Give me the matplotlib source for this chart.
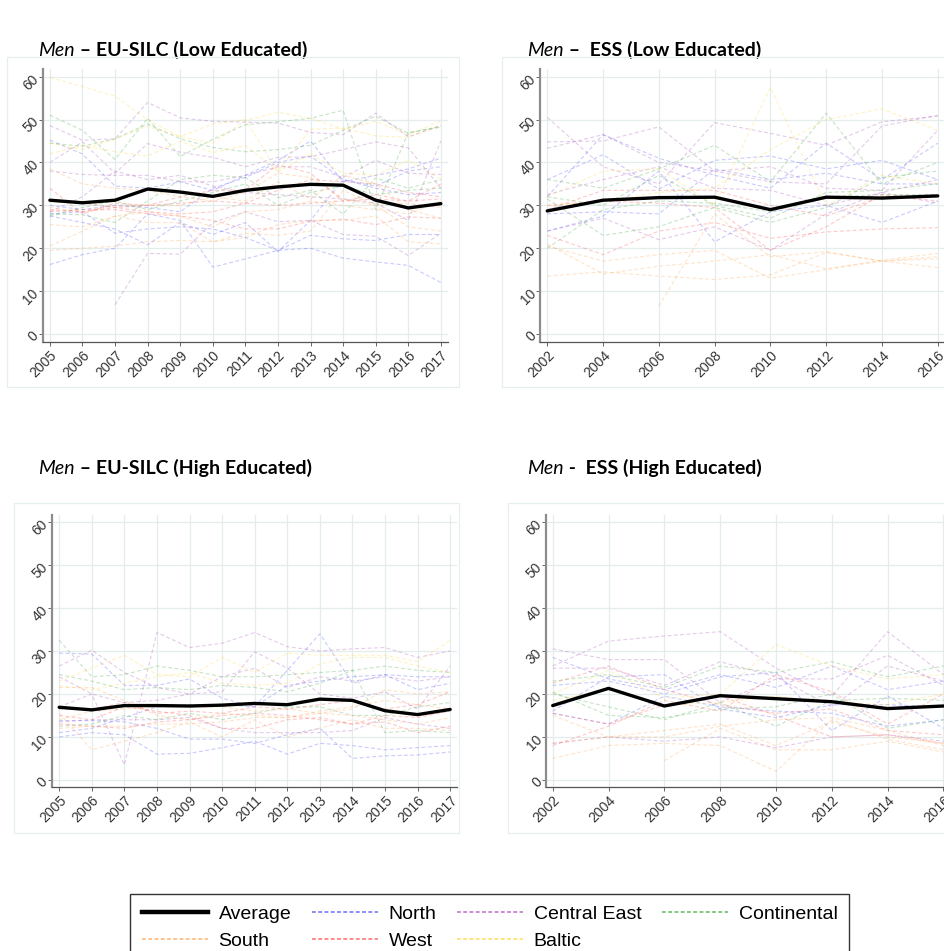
import numpy as np
import matplotlib
matplotlib.use("Agg")
import matplotlib.pyplot as plt
from matplotlib.lines import Line2D
from matplotlib.patches import Rectangle

nan = np.nan

years_silc = [2005, 2006, 2007, 2008, 2009, 2010, 2011, 2012, 2013, 2014, 2015, 2016, 2017]
years_ess = [2002, 2004, 2006, 2008, 2010, 2012, 2014, 2016]

# ---- EU-SILC, low educated ----
silc_low_avg = [31.2, 30.6, 31.2, 33.8, 33.1, 32.1, 33.5, 34.3, 34.9, 34.7, 31.2, 29.4, 30.4]
silc_low_north = [
    [45.2, 42.0, 34.5, 34.0, 35.5, 33.5, 37.0, 40.5, 45.0, 35.5, 37.0, 38.5, 41.0],
    [27.5, 26.0, 24.5, 20.8, 26.0, 23.2, 26.0, 19.2, 26.5, 36.0, 34.5, 38.0, 39.0],
    [16.2, 18.5, 20.0, 28.0, 26.5, 15.6, 17.5, 19.5, 20.0, 17.7, 16.8, 16.0, 12.0],
    [28.0, 28.5, 23.5, 24.5, 25.0, 24.5, 22.5, 19.5, 23.0, 22.2, 21.8, 23.2, 23.2],
    [30.0, 29.0, 30.0, 29.5, 28.5, 34.0, 36.5, 40.0, 41.5, 36.0, 34.0, 32.5, 33.0],
]
silc_low_central_east = [
    [48.6, 45.2, 45.5, 54.0, 50.4, 49.6, 49.4, 49.2, 47.0, 46.5, 51.5, 46.0, 48.6],
    [40.0, 44.8, 37.5, 44.4, 42.4, 41.2, 39.0, 41.2, 41.3, 43.0, 44.8, 43.4, 34.0],
    [38.0, 37.2, 37.0, 37.0, 35.5, 35.5, 37.0, 39.0, 39.0, 36.5, 40.5, 37.5, 37.2],
    [28.5, 32.0, 38.0, 36.0, 37.0, 34.5, 33.0, 32.5, 32.0, 31.5, 30.5, 26.5, 45.0],
    [nan, nan, 6.8, 18.8, 18.6, 26.0, 28.5, 26.2, 26.5, 23.2, 22.8, 18.3, 23.5],
]
silc_low_continental = [
    [51.0, 47.5, 40.7, 50.3, 41.4, 45.4, 48.8, 49.5, 50.3, 52.2, 29.0, 47.0, 48.2],
    [44.5, 43.8, 45.5, 49.0, 45.5, 43.5, 42.5, 43.0, 44.0, 47.5, 50.8, 46.8, 48.5],
    [28.0, 27.8, 26.0, 31.0, 36.0, 37.0, 36.5, 31.8, 33.5, 28.0, 36.4, 34.0, 36.0],
    [27.5, 29.5, 31.0, 29.0, 31.0, 33.0, 35.0, 30.0, 33.0, 34.5, 32.5, 33.5, 34.0],
]
silc_low_south = [
    [38.5, 35.0, 34.0, 33.5, 32.0, 31.0, 33.0, 37.5, 36.5, 31.5, 30.0, 30.5, 29.5],
    [20.5, 24.0, 27.5, 26.0, 26.0, 21.5, 23.5, 23.0, 24.0, 33.5, 30.0, 25.0, 24.0],
    [19.5, 20.0, 20.5, 21.5, 21.8, 21.5, 22.5, 25.5, 26.5, 26.5, 27.5, 21.5, 21.0],
    [25.5, 25.0, 27.5, 28.5, 27.5, 25.0, 28.5, 29.0, 31.0, 30.0, 29.0, 28.0, 31.0],
    [29.5, 28.5, 30.0, 30.0, 30.0, 32.0, 31.0, 35.5, 31.5, 37.0, 35.0, 29.0, 27.0],
]
silc_low_west = [
    [34.0, 28.0, 30.5, 30.0, 32.0, 33.5, 33.5, 39.5, 37.5, 31.0, 31.5, 31.0, 35.0],
    [29.0, 28.5, 29.5, 30.0, 30.5, 31.0, 30.5, 30.0, 30.5, 31.0, 32.5, 31.0, 31.5],
    [28.5, 29.0, 29.0, 28.0, 27.5, 26.5, 24.5, 24.5, 26.3, 26.8, 25.5, 27.3, 27.0],
    [31.0, 30.5, 29.5, 28.5, 28.0, 28.5, 30.5, 33.5, 36.0, 35.5, 35.0, 33.0, 32.0],
]
silc_low_baltic = [
    [59.8, 57.7, 55.5, 50.0, 46.0, 44.5, 49.8, 51.7, 50.3, 47.8, 49.6, 46.5, 49.7],
    [42.0, 44.0, 42.5, 41.5, 44.9, 42.3, 44.0, 38.0, 47.8, 48.0, 46.2, 45.9, 48.5],
    [44.5, 43.0, 45.5, 48.5, 46.0, 49.0, 50.0, 37.8, 42.0, 37.5, 37.0, 40.5, 36.0],
]

# ---- ESS, low educated ----
ess_low_avg = [28.7, 31.2, 31.8, 31.9, 29.0, 31.9, 31.7, 32.2]
ess_low_north = [
    [32.0, 46.5, 41.0, 37.0, 34.0, 44.5, 36.0, 44.5],
    [36.0, 41.8, 33.8, 40.5, 41.5, 38.5, 40.5, 36.0],
    [24.0, 27.5, 38.0, 21.5, 28.5, 30.0, 26.0, 31.0],
    [28.0, 28.5, 28.0, 38.5, 36.0, 37.5, 35.0, 35.0],
]
ess_low_central_east = [
    [50.5, 39.0, 35.0, 49.3, 46.8, 44.0, 49.5, 50.8],
    [44.8, 45.0, 48.3, 38.0, 35.5, 35.0, 48.5, 51.0],
    [43.3, 46.5, 40.0, 38.0, 39.0, 34.0, 33.5, 47.5],
    [32.5, 36.0, 39.0, 34.0, 33.5, 30.0, 33.0, 36.0],
    [24.0, 27.0, 22.0, 25.0, 19.5, 28.0, 33.0, 30.5],
]
ess_low_continental = [
    [36.0, 34.0, 38.5, 44.0, 35.5, 51.5, 35.0, 40.0],
    [31.5, 23.0, 25.0, 29.5, 26.0, 29.5, 36.5, 38.0],
    [32.0, 30.0, 37.0, 30.0, 27.0, 33.0, 33.5, 35.0],
    [20.0, 29.0, 31.0, 30.5, 28.5, 32.0, 32.5, 32.5],
]
ess_low_south = [
    [20.5, 17.0, 18.5, 19.5, 13.0, 15.0, 17.0, 17.5],
    [13.5, 14.5, 13.5, 12.7, 13.8, 19.0, 17.0, 15.5],
    [21.0, 14.0, 15.8, 17.0, 18.5, 15.2, 17.2, 18.8],
    [nan, nan, 6.5, 28.0, 18.0, 19.2, 17.0, 18.0],
]
ess_low_west = [
    [23.0, 18.5, 24.0, 26.0, 22.3, 23.8, 24.5, 24.8],
    [29.0, 33.5, 33.5, 33.5, 30.0, 27.5, 32.0, 32.5],
    [30.0, 31.0, 30.5, 29.5, 19.5, 25.0, 32.5, 31.0],
]
ess_low_baltic = [
    [32.0, 38.0, 38.5, 30.0, 57.5, 30.0, 37.0, 35.0],
    [30.0, 31.0, 33.0, 34.0, 43.0, 50.0, 52.5, 47.5],
]

# ---- EU-SILC, high educated ----
silc_high_avg = [16.9, 16.3, 17.3, 17.3, 17.2, 17.4, 17.8, 17.5, 18.8, 18.5, 16.1, 15.2, 16.4]
silc_high_north = [
    [29.5, 29.3, 22.0, 22.0, 23.5, 19.0, 17.0, 25.5, 34.0, 22.5, 24.5, 24.0, 24.0],
    [10.0, 11.0, 10.5, 6.0, 6.2, 7.5, 9.0, 6.0, 8.5, 8.0, 7.0, 7.5, 8.0],
    [13.8, 13.8, 13.5, 12.0, 9.5, 9.5, 8.5, 10.5, 12.0, 5.0, 5.6, 5.8, 6.5],
    [11.0, 12.0, 14.5, 17.0, 17.5, 17.5, 17.0, 22.0, 23.0, 24.0, 24.5, 21.0, 22.5],
]
silc_high_central_east = [
    [17.0, 20.0, 3.5, 34.3, 30.8, 31.8, 34.3, 31.0, 30.0, 30.5, 30.8, 28.5, 30.0],
    [26.5, 30.2, 25.0, 21.5, 20.0, 20.5, 29.8, 26.0, 20.0, 19.0, 20.5, 16.5, 26.5],
    [24.0, 20.0, 18.0, 18.5, 20.0, 24.0, 26.0, 21.5, 24.0, 23.0, 24.0, 23.0, 24.0],
    [13.5, 14.0, 14.0, 14.0, 14.5, 12.0, 11.0, 11.0, 11.0, 11.5, 14.5, 13.0, 12.0],
]
silc_high_continental = [
    [32.5, 24.0, 24.5, 26.5, 25.5, 24.0, 24.0, 24.5, 25.0, 25.5, 26.5, 25.5, 25.0],
    [24.5, 23.0, 21.0, 21.5, 21.0, 22.0, 21.5, 20.5, 22.5, 25.5, 11.0, 11.5, 11.0],
    [12.5, 13.0, 15.0, 14.0, 15.5, 14.0, 15.5, 17.0, 17.0, 15.0, 15.0, 17.0, 18.0],
]
silc_high_south = [
    [15.5, 7.0, 9.0, 11.0, 13.5, 10.0, 14.0, 10.0, 12.0, 14.0, 12.0, 12.0, 11.5],
    [21.5, 21.5, 18.5, 15.0, 14.0, 15.5, 15.0, 14.5, 15.5, 15.0, 14.0, 13.0, 14.5],
    [12.0, 12.5, 12.5, 13.0, 13.0, 13.5, 14.5, 14.5, 16.0, 17.0, 18.5, 17.5, 16.5],
    [14.0, 16.0, 16.5, 17.0, 17.0, 17.0, 16.0, 16.5, 15.5, 16.5, 21.0, 20.0, 20.5],
]
silc_high_west = [
    [15.0, 14.0, 17.0, 16.0, 15.0, 12.0, 12.0, 14.0, 14.5, 13.0, 13.5, 11.0, 12.5],
    [16.5, 16.5, 18.0, 15.5, 16.0, 15.5, 17.0, 16.5, 17.5, 18.5, 16.5, 17.5, 20.5],
    [13.0, 12.5, 12.0, 13.5, 14.0, 15.0, 15.5, 15.0, 14.0, 13.0, 15.0, 14.5, 16.0],
]
silc_high_baltic = [
    [23.0, 26.0, 29.0, 24.5, 24.0, 28.5, 25.0, 29.5, 29.0, 29.0, 29.0, 27.5, 32.5],
    [22.0, 21.0, 22.5, 24.0, 25.0, 22.5, 22.0, 22.5, 27.0, 28.5, 28.5, 26.5, 25.0],
]

# ---- ESS, high educated ----
ess_high_avg = [17.3, 21.3, 17.2, 19.6, 18.9, 18.2, 16.6, 17.2]
ess_high_north = [
    [28.5, 23.5, 21.0, 24.5, 21.5, 26.5, 21.0, 23.0],
    [22.0, 23.0, 20.0, 24.0, 25.0, 11.5, 19.5, 12.0],
    [15.5, 13.0, 19.5, 17.0, 16.0, 15.5, 12.5, 14.0],
    [16.0, 24.0, 24.5, 16.5, 14.5, 17.5, 17.5, 17.0],
]
ess_high_central_east = [
    [26.5, 32.3, 33.5, 34.5, 26.0, 19.5, 34.5, 24.5],
    [30.5, 28.0, 28.0, 18.0, 23.5, 23.5, 29.0, 22.0],
    [26.0, 26.0, 22.0, 27.5, 24.0, 17.0, 26.5, 23.0],
    [8.5, 10.0, 9.0, 10.0, 7.5, 10.0, 10.5, 9.0],
]
ess_high_continental = [
    [23.0, 24.5, 21.5, 26.5, 25.0, 27.5, 24.0, 26.5],
    [20.0, 17.0, 14.0, 18.0, 12.5, 18.5, 19.0, 18.5],
    [20.5, 15.0, 14.5, 16.5, 17.0, 20.0, 12.0, 14.0],
]
ess_high_south = [
    [15.0, 10.0, 11.5, 13.0, 8.0, 13.5, 10.0, 8.5],
    [5.0, 8.0, 8.5, 8.0, 2.0, 14.0, 9.5, 7.0],
    [8.5, 10.0, 10.0, 12.5, 14.0, 14.5, 11.5, 8.0],
    [nan, nan, 4.5, 12.0, 7.0, 7.0, 9.0, 6.5],
]
ess_high_west = [
    [8.0, 12.5, 18.5, 16.0, 24.5, 20.5, 13.0, 20.0],
    [22.5, 26.5, 21.0, 17.5, 15.5, 16.5, 11.5, 10.5],
    [15.5, 13.0, 17.5, 19.5, 15.0, 10.0, 10.5, 8.5],
]
ess_high_baltic = [
    [20.0, 25.5, 19.0, 20.0, 31.5, 26.5, 23.5, 24.5],
    [18.5, 21.0, 17.5, 18.0, 19.5, 18.0, 17.5, 20.0],
]

region_names = ["North", "Central East", "Continental", "South", "West", "Baltic"]
region_colors = ["#3a3aff", "#a23cb4", "#2e9e2e", "#ff9a3c", "#ff3a3a", "#ffd21f"]

panels = [
    ("Men", " \u2013 EU-SILC (Low Educated)", years_silc, silc_low_avg,
     [silc_low_north, silc_low_central_east, silc_low_continental,
      silc_low_south, silc_low_west, silc_low_baltic]),
    ("Men", " \u2013  ESS (Low Educated)", years_ess, ess_low_avg,
     [ess_low_north, ess_low_central_east, ess_low_continental,
      ess_low_south, ess_low_west, ess_low_baltic]),
    ("Men", " \u2013 EU-SILC (High Educated)", years_silc, silc_high_avg,
     [silc_high_north, silc_high_central_east, silc_high_continental,
      silc_high_south, silc_high_west, silc_high_baltic]),
    ("Men", " -  ESS (High Educated)", years_ess, ess_high_avg,
     [ess_high_north, ess_high_central_east, ess_high_continental,
      ess_high_south, ess_high_west, ess_high_baltic]),
]

W, H = 945, 951
fig = plt.figure(figsize=(W / 100, H / 100), dpi=100)


def px_box(left, top, right, bottom):
    return [left / W, 1 - bottom / H, (right - left) / W, (bottom - top) / H]


# axes boxes in pixels: left, top, right, bottom
axes_px = [(42.7, 69, 447.7, 341.7), (540, 69, 945, 341.7),
           (51.7, 515, 457, 787), (546, 515, 951, 787)]
frames_px = [(7, 57, 459, 387), (502, 57, 946, 387),
             (14, 503, 459, 833), (508, 503, 946, 833)]
titles_px = [(38, 50), (527, 50), (38, 468), (527, 468)]
xlims = [(2004.78, 2017.21), (2001.74, 2016.26), (2004.77, 2017.21), (2001.76, 2016.27)]
ylims = [(-1.8, 61.8), (-1.8, 61.8), (-1.65, 61.65), (-1.65, 61.65)]

for i, (ital, rest, years, avg, groups) in enumerate(panels):
    l, t, r, b = frames_px[i]
    fig.add_artist(Rectangle((l / W, 1 - b / H), (r - l) / W, (b - t) / H,
                             transform=fig.transFigure, fill=False,
                             edgecolor="#e6eeee", lw=0.9))

    ax = fig.add_axes(px_box(*axes_px[i]))
    for color, series in zip(region_colors, groups):
        for vals in series:
            ax.plot(years, vals, color=color, alpha=0.27, lw=0.8,
                    dashes=(3.5, 2.2))
    ax.plot(years, avg, color="black", lw=2.4, solid_capstyle="round", zorder=5)

    ax.set_xlim(*xlims[i])
    ax.set_ylim(*ylims[i])
    ax.set_xticks(years)
    ax.set_yticks([0, 10, 20, 30, 40, 50, 60])
    ax.grid(True, color="#e4ecec", lw=0.9)
    ax.set_axisbelow(True)
    for s in ["top", "right"]:
        ax.spines[s].set_visible(False)
    ax.spines["left"].set_color("#8c8c8c")
    ax.spines["left"].set_linewidth(1.6)
    ax.spines["bottom"].set_color("#555555")
    ax.spines["bottom"].set_linewidth(0.9)
    ax.tick_params(length=3, width=0.7, color="#666666", labelsize=10,
                   labelcolor="#333333", pad=1.5)
    for lab in ax.get_xticklabels():
        lab.set_rotation(45)
        lab.set_ha("right")
        lab.set_va("top")
        lab.set_rotation_mode("anchor")
        lab.set_family("Liberation Sans")
    for lab in ax.get_yticklabels():
        lab.set_rotation(45)
        lab.set_ha("right")
        lab.set_va("center")
        lab.set_rotation_mode("anchor")
        lab.set_family("Liberation Sans")

    tx, ty = titles_px[i]
    t1 = fig.text(tx / W, 1 - ty / H, ital, fontsize=14, style="italic",
                  family="Lato", va="center", ha="left")
    ax.annotate(rest, xy=(1, 0.5), xycoords=t1, va="center", ha="left",
                fontsize=14, fontweight="bold", family="Lato",
                annotation_clip=False)

# legend entries, ordered so the 4-column legend reads row by row
avg_handle = Line2D([], [], color="black", lw=3.2)
reg_handles = [Line2D([], [], color=c, alpha=0.75, lw=1.1, dashes=(2.5, 1.6))
               for c in region_colors]
handles = [avg_handle, reg_handles[3], reg_handles[0], reg_handles[4],
           reg_handles[1], reg_handles[5], reg_handles[2]]
labels = ["Average", "South", "North", "West", "Central East", "Baltic", "Continental"]

leg = fig.legend(handles, labels, ncol=4, loc="upper left",
                 bbox_to_anchor=(130 / W, 1 - 894 / H),
                 prop={"family": "Liberation Sans", "size": 14},
                 frameon=True, fancybox=False, edgecolor="black",
                 handlelength=3.4, handletextpad=0.55, columnspacing=1.05,
                 labelspacing=0.45, borderpad=0.6, borderaxespad=0)
leg.get_frame().set_linewidth(1.0)

fig.savefig("out.png", dpi=100)
